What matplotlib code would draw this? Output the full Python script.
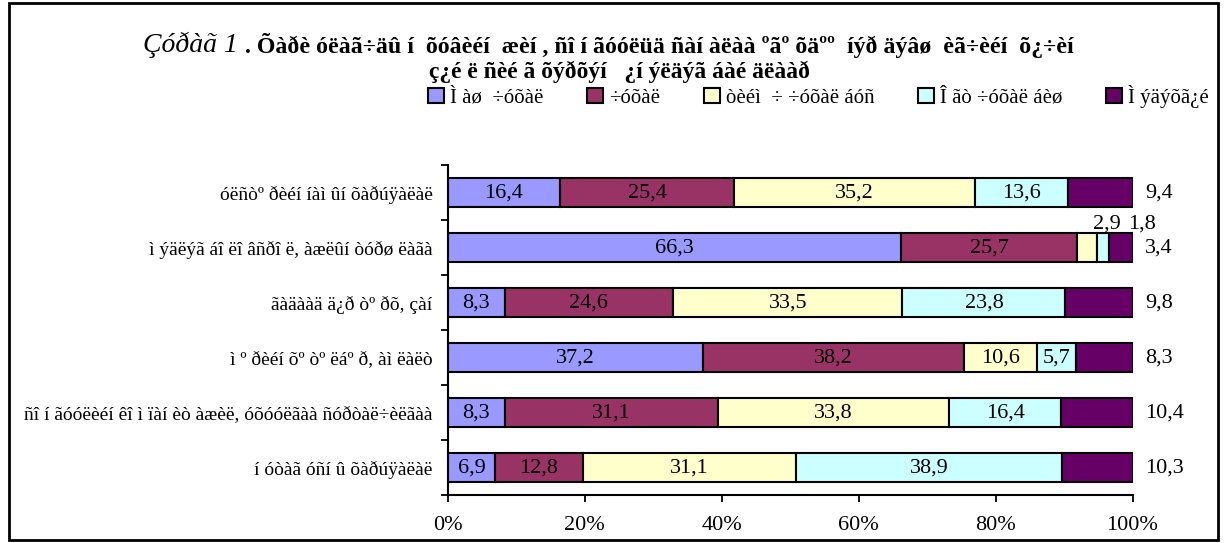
import numpy as np
import matplotlib
matplotlib.use("Agg")
import matplotlib.pyplot as plt
from matplotlib.patches import Rectangle

plt.rcParams['font.family'] = ['Liberation Serif', 'DejaVu Serif']

# categories, top to bottom
categories = [
    "óëñòº ðèéí íàì ûí õàðúÿàëàë",
    "ì ýäëýã áî ëî âñðî ë, àæëûí òóðø ëàãà",
    "ãàäààä ä¿ð òº ðõ, çàí",
    "ì º ðèéí õº òº ëáº ð, àì ëàëò",
    "ñî í ãóóëèéí êî ì ïàí èò àæèë, óõóóëãàà ñóðòàë÷èëãàà",
    "í óòàã óñí û õàðúÿàëàë",
]
series_names = ["Ì àø  ÷óõàë", "÷óõàë", "òèéì  ÷ ÷óõàë áóñ", "Î ãò ÷óõàë áèø", "Ì ýäýõã¿é"]
very = [16.4, 66.3, 8.3, 37.2, 8.3, 6.9]
important = [25.4, 25.7, 24.6, 38.2, 31.1, 12.8]
not_so = [35.2, 2.9, 33.5, 10.6, 33.8, 31.1]
not_at_all = [13.6, 1.8, 23.8, 5.7, 16.4, 38.9]
dont_know = [9.4, 3.4, 9.8, 8.3, 10.4, 10.3]
colors = ["#9999FF", "#993366", "#FFFFCC", "#CCFFFF", "#660066"]

title_italic = "Çóðàã 1 "
title_bold1 = ". Õàðè óëàã÷äû í  õóâèéí  æèí , ñî í ãóóëüä ñàí àëàà ºãº õäºº  íýð äýâø  èã÷èéí  õ¿÷èí"
title_bold2 = "ç¿é ë ñèé ã õýðõýí   ¿í ýëäýã áàé äëààð"

data = np.array([very, important, not_so, not_at_all, dont_know])
totals = data.sum(axis=0)
pct = data / totals * 100

fig = plt.figure(figsize=(12.27, 5.43), dpi=100)
ax = fig.add_axes([0.365, 0.088, 0.558, 0.608])

lab_fs = 16
y = np.arange(len(categories))
left = np.zeros(len(categories))
for i, (name, col) in enumerate(zip(series_names, colors)):
    bars = ax.barh(y, pct[i], left=left, height=0.52, color=col,
                   edgecolor='black', linewidth=1.5, label=name)
    for j, b in enumerate(bars):
        val = data[i][j]
        txt = f"{val:.1f}".replace('.', ',')
        cx = left[j] + pct[i][j] / 2
        if i == 4:
            ax.annotate(txt, (100, j), xytext=(9, 0), textcoords='offset points',
                        ha='left', va='center', fontsize=lab_fs)
        elif val < 4:
            ax.annotate(txt, (cx, j - 0.26), xytext=(14 if i == 2 else 28, 0),
                        textcoords='offset points', ha='center', va='bottom', fontsize=lab_fs)
        else:
            ax.text(cx, j, txt, ha='center', va='center', fontsize=lab_fs)
    left += pct[i]

ax.set_xlim(0, 100)
ax.set_ylim(len(categories) - 0.5, -0.5)
ax.set_xticks(np.arange(0, 101, 20))
ax.set_xticklabels([f"{v}%" for v in range(0, 101, 20)], fontsize=lab_fs)
ax.set_yticks(y)
ax.set_yticklabels(categories, fontsize=14)
ax.set_yticks(np.arange(-0.5, len(categories), 1), minor=True)
ax.tick_params(axis='y', which='major', length=0, pad=11)
ax.tick_params(axis='y', which='minor', length=5, width=1.3)
ax.tick_params(axis='x', length=5, width=1.3, pad=10)
for s in ['top', 'right']:
    ax.spines[s].set_visible(False)
for s in ['left', 'bottom']:
    ax.spines[s].set_linewidth(1.5)

fig.legend(loc='center right', bbox_to_anchor=(0.992, 0.823), ncol=5, frameon=False,
           fontsize=15, handlelength=0.75, handleheight=0.75, handletextpad=0.3,
           columnspacing=2.1, borderaxespad=0)

# title: italic part followed by bold part
t1 = fig.text(0.1165, 0.917, title_italic, fontsize=20, style='italic', ha='left', va='center')
fig.canvas.draw()
bb = t1.get_window_extent(fig.canvas.get_renderer())
x_next = bb.x1 / fig.bbox.width
fig.text(x_next, 0.917, title_bold1, fontsize=17.2, fontweight='bold', ha='left', va='center')
fig.text(0.505, 0.867, title_bold2, fontsize=17, fontweight='bold', ha='center', va='center')

fig.patches.append(Rectangle((0.007, 0.006), 0.986, 0.988, transform=fig.transFigure,
                             fill=False, edgecolor='black', linewidth=2))

fig.savefig("out.png", dpi=100)
